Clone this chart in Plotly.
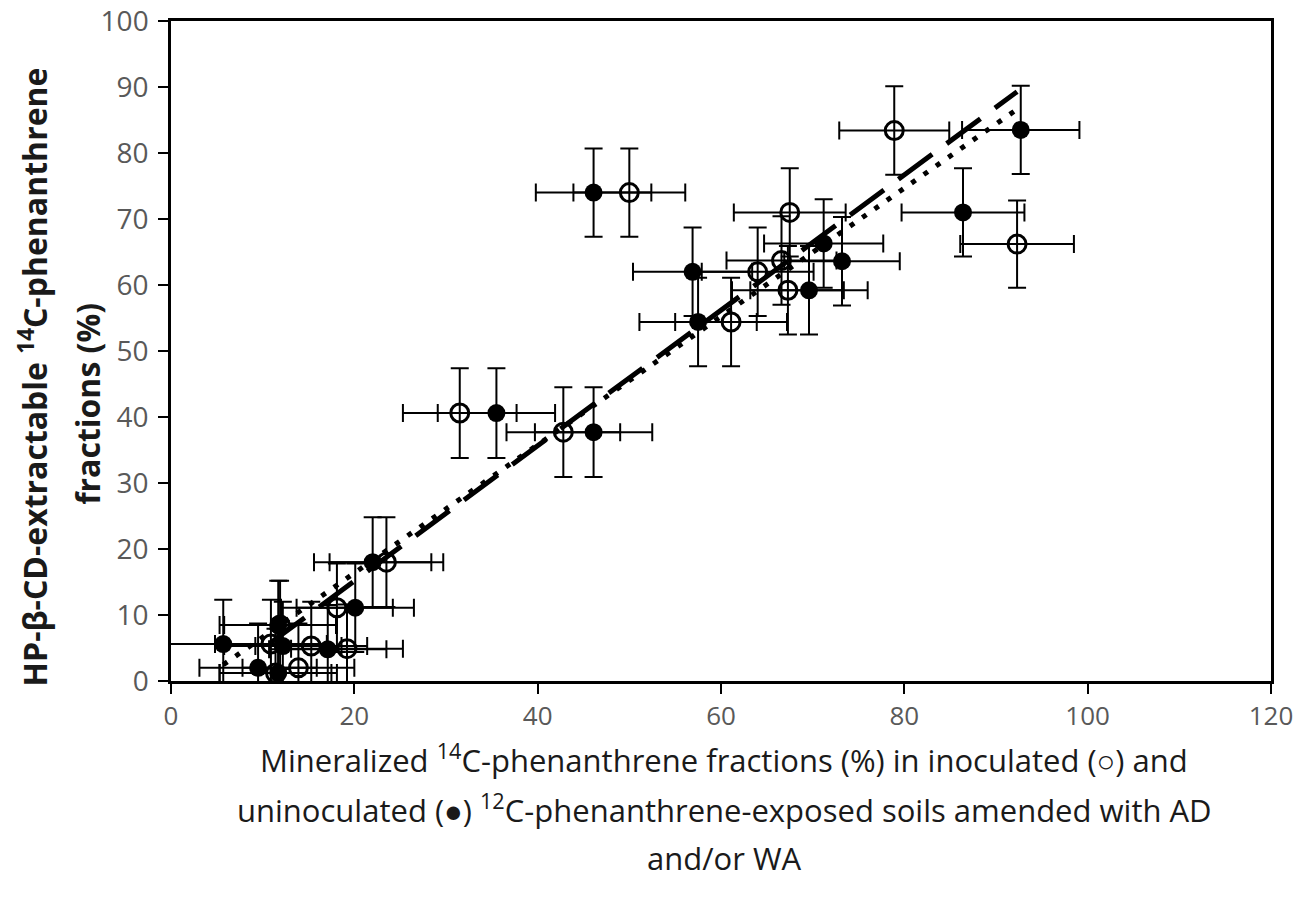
import numpy as np
import plotly.graph_objects as go

# Inoculated (open circles)
inoc_x = [50.0, 78.9, 67.5, 92.3, 66.6, 64.0, 67.3, 61.1, 31.5, 42.8, 23.5, 18.1, 19.2, 15.3, 13.9, 11.4, 10.9, 11.9]
inoc_y = [74.0, 83.4, 71.0, 66.2, 63.7, 62.0, 59.2, 54.4, 40.6, 37.7, 18.0, 11.1, 4.9, 5.3, 2.0, 1.2, 5.6, 8.5]
inoc_xerr = [6.1, 6.0, 6.1, 6.2, 6.0, 6.1, 6.1, 6.1, 6.2, 6.2, 6.2, 6.1, 6.1, 6.1, 6.1, 6.1, 6.1, 6.1]
inoc_yerr = [6.7, 6.7, 6.7, 6.6, 6.7, 6.7, 6.7, 6.7, 6.8, 6.8, 6.8, 6.7, 6.7, 6.7, 6.7, 6.7, 6.7, 6.7]

# Uninoculated (filled circles)
unin_x = [46.1, 92.7, 86.4, 71.2, 73.2, 56.9, 69.6, 57.5, 35.5, 46.1, 22.0, 20.1, 17.1, 12.2, 9.5, 11.7, 5.7, 11.7]
unin_y = [74.0, 83.5, 71.0, 66.3, 63.6, 62.0, 59.2, 54.4, 40.6, 37.7, 18.0, 11.1, 4.8, 5.3, 2.0, 1.2, 5.6, 8.5]
unin_xerr = [6.3, 6.4, 6.7, 6.5, 6.3, 6.5, 6.4, 6.4, 6.4, 6.4, 6.4, 6.4, 6.4, 6.4, 6.4, 6.4, 6.4, 6.4]
unin_yerr = [6.7, 6.7, 6.7, 6.7, 6.7, 6.7, 6.7, 6.7, 6.8, 6.8, 6.8, 6.7, 6.7, 6.7, 6.7, 6.7, 6.7, 6.7]

x_ticks = [0, 20, 40, 60, 80, 100, 120]
y_ticks = [0, 10, 20, 30, 40, 50, 60, 70, 80, 90, 100]

FONT = "Open Sans"
TICK_COLOR = "#595959"

fig = go.Figure()

def err(arr):
    return dict(type="data", array=arr, visible=True, color="black", thickness=2, width=9)

fig.add_trace(go.Scatter(
    x=unin_x, y=unin_y, mode="markers", name="uninoculated",
    marker=dict(symbol="circle", size=18, color="black"),
    error_x=err(unin_xerr), error_y=err(unin_yerr), showlegend=False,
))
fig.add_trace(go.Scatter(
    x=inoc_x, y=inoc_y, mode="markers", name="inoculated",
    marker=dict(symbol="circle-open", size=18, color="black", line=dict(width=3, color="black")),
    error_x=err(inoc_xerr), error_y=err(inoc_yerr), showlegend=False,
))

# Linear trendlines (fitted from each series, spanning its x range)
for xs, ys, dash, w in [(inoc_x, inoc_y, "42px,18px", 5), (unin_x, unin_y, "5px,10px", 5)]:
    a, b = np.polyfit(xs, ys, 1)
    tx = np.array([min(xs), max(xs)])
    fig.add_trace(go.Scatter(x=tx, y=a * tx + b, mode="lines",
                             line=dict(color="black", width=w, dash=dash),
                             showlegend=False, hoverinfo="skip"))

fig.update_xaxes(
    range=[0, 120], tickvals=x_ticks, ticks="outside", ticklen=10, tickwidth=2,
    tickcolor="black", showline=True, linecolor="black", linewidth=2.5, mirror=True,
    showgrid=False, zeroline=False, tickfont=dict(family=FONT, size=26, color=TICK_COLOR),
    ticklabelstandoff=0, automargin=False,
)
fig.update_yaxes(
    range=[0, 100], tickvals=y_ticks, ticks="outside", ticklen=10, tickwidth=2,
    tickcolor="black", showline=True, linecolor="black", linewidth=2.5, mirror=True,
    showgrid=False, zeroline=False, tickfont=dict(family=FONT, size=28, color=TICK_COLOR),
    ticklabelstandoff=4, automargin=False,
)

title_lines = [
    "Mineralized <sup>14</sup>C-phenanthrene fractions (%) in inoculated (○) and",
    "uninoculated (●) <sup>12</sup>C-phenanthrene-exposed soils amended with AD",
    "and/or WA",
]
annots = []
for i, t in enumerate(title_lines):
    annots.append(dict(text=t, xref="paper", yref="paper", x=0.5, y=0, xanchor="center",
                       yanchor="middle", yshift=-(77 + 50 * i), xshift=3, showarrow=False,
                       font=dict(family=FONT, size=31, color="#1a1a1a")))
ylines = [("HP-β-CD-extractable <sup>14</sup>C-phenanthrene", 33, 0.46),
          ("fractions (%)", 88, 0.42)]
for t, cx, cy in ylines:
    annots.append(dict(text=t, xref="paper", yref="paper", x=0, y=cy, xanchor="center",
                       yanchor="middle", xshift=cx - 171, textangle=-90, showarrow=False,
                       font=dict(family=FONT, size=32, color="#1a1a1a", weight="bold")))

fig.update_layout(
    width=1312, height=903, margin=dict(l=171, r=41, t=21, b=222),
    plot_bgcolor="white", paper_bgcolor="white", annotations=annots,
)

fig.write_html("out.html")
